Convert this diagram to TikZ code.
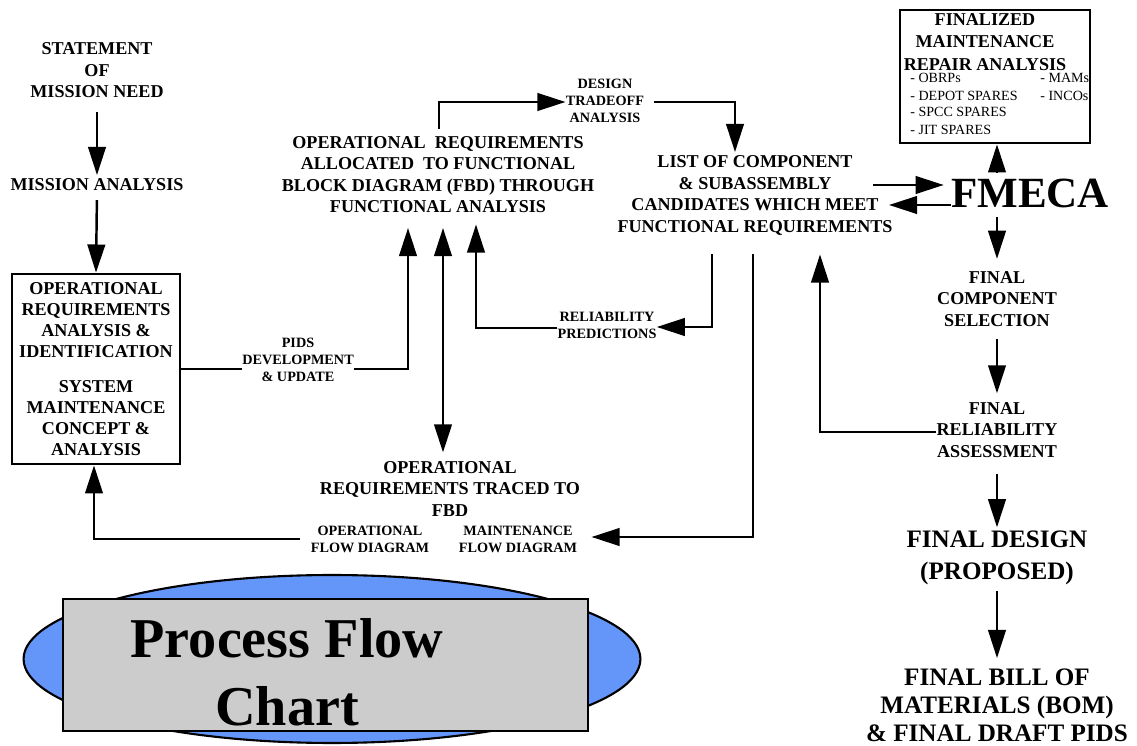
\documentclass[tikz,border=0pt]{standalone}
\usepackage{fontspec}
\setmainfont{Liberation Serif}
\usetikzlibrary{arrows.meta,shapes.geometric}
\definecolor{ovalblue}{RGB}{100,150,250}
\definecolor{panelgray}{RGB}{204,204,204}
\begin{document}
\begin{tikzpicture}[x=0.02cm,y=-0.02cm,
  lbl/.style={font=\bfseries\fontsize{10.3}{12.2}\selectfont,align=center,inner sep=0pt},
  small/.style={font=\bfseries\fontsize{8.1}{9.6}\selectfont,align=center,inner sep=0pt},
  large/.style={font=\bfseries\fontsize{14.3}{16}\selectfont,align=center,inner sep=0pt},
  item/.style={font=\fontsize{8}{9}\selectfont,anchor=base west,inner sep=0pt},
  frame/.style={draw,line width=1.6pt,inner sep=0pt},
  flow/.style={line width=1.4pt},
  arr/.style={flow,-{Triangle[length=16pt,width=10pt]}},
  dblarr/.style={flow,{Triangle[length=16pt,width=10pt]}-{Triangle[length=16pt,width=10pt]}}]

\useasboundingbox (0,0) rectangle (1137,746);

% ---------- left column ----------
\node[lbl] (stmt) at (97,70.5) {STATEMENT\\OF\\MISSION NEED};
\node[lbl] (mission) at (97,185) {MISSION ANALYSIS};
\node[frame,minimum width=3.36cm,minimum height=3.8cm,lbl,
      font=\bfseries\fontsize{10.3}{12}\selectfont] (opreq) at (96,369)
  {OPERATIONAL\\REQUIREMENTS\\ANALYSIS \&\\IDENTIFICATION\\[8pt]
   SYSTEM\\MAINTENANCE\\CONCEPT \&\\ANALYSIS};

% ---------- middle ----------
\node[small] (pids) at (298,360) {PIDS\\DEVELOPMENT\\\& UPDATE};
\node[lbl] (fbd) at (438,174.5)
  {OPERATIONAL\ \ REQUIREMENTS\\ALLOCATED\ \ TO FUNCTIONAL\\BLOCK DIAGRAM (FBD) THROUGH\\FUNCTIONAL ANALYSIS};
\node[small] (tradeoff) at (605,101) {DESIGN\\TRADEOFF\\ANALYSIS};
\node[lbl] (list) at (755,195.5)
  {LIST OF COMPONENT\\\& SUBASSEMBLY\\CANDIDATES WHICH MEET\\FUNCTIONAL REQUIREMENTS};
\node[small] (reliab) at (607,325) {RELIABILITY\\PREDICTIONS};
\node[lbl] (traced) at (450,489) {OPERATIONAL\\REQUIREMENTS TRACED TO\\FBD};
\node[small] (opflow) at (370,539) {OPERATIONAL\\FLOW DIAGRAM};
\node[small] (mtflow) at (518,539) {MAINTENANCE\\FLOW DIAGRAM};

% ---------- right column ----------
\node[frame,minimum width=3.8cm,minimum height=2.66cm] (fmra) at (995,76.5) {};
\node[lbl,font=\bfseries\fontsize{10.3}{13}\selectfont] (fmrahead) at (985,42)
  {FINALIZED\\MAINTENANCE\\REPAIR ANALYSIS};
\node[item] (obrp) at (910,83) {- OBRPs};
\node[item] (depot) at (910,101) {- DEPOT SPARES};
\node[item] (spcc) at (910,117) {- SPCC SPARES};
\node[item] (jit) at (910,135) {- JIT SPARES};
\node[item] (mams) at (1040,83) {- MAMs};
\node[item] (incos) at (1040,101) {- INCOs};

\node[inner sep=0pt,font=\bfseries\fontsize{24.5}{26}\selectfont] (fmeca) at (1030,193) {FMECA};
\node[lbl] (fcs) at (997,299) {FINAL\\COMPONENT\\SELECTION};
\node[lbl] (fra) at (997,430) {FINAL\\RELIABILITY\\ASSESSMENT};
\node[large,font=\bfseries\fontsize{14.3}{18}\selectfont] (fdesign) at (997,558) {FINAL DESIGN\\(PROPOSED)};
\node[large] (bom) at (997,705.5) {FINAL BILL OF\\MATERIALS (BOM)\\\& FINAL DRAFT PIDS};

% ---------- title badge ----------
\node[ellipse,draw,line width=1.2pt,fill=ovalblue,minimum width=12.34cm,minimum height=3.36cm] (oval) at (332,659) {};
\node[draw,line width=1.4pt,fill=panelgray,minimum width=10.5cm,minimum height=2.64cm] (panel) at (325.5,665) {};
\node[inner sep=0pt,align=center,font=\bfseries\fontsize{32}{38.5}\selectfont] (title) at (287,672) {Process Flow\\Chart};

% ---------- bend points ----------
\coordinate (pidsbend) at (408,369);
\coordinate (bicol) at (443,340);
\coordinate (relbend) at (476,328);
\coordinate (lrbend) at (712,327);
\coordinate (lmbend) at (753,537);
\coordinate (ofbend) at (94,539);
\coordinate (tobend) at (439,102);
\coordinate (tlbend) at (735,102);
\coordinate (fmout) at (873,185);
\coordinate (fmback) at (889,205);
\coordinate (fmcol) at (997,193);
\coordinate (frbend) at (820,432);

% ---------- connectors ----------
\draw[arr,shorten <=8pt,shorten >=2pt] (stmt.south) -- (mission.north);
\draw[arr,shorten <=5pt] (mission.south) -- (opreq.north);

\draw[flow] (opreq.east) -- (opreq.east -| pids.west);
\draw[arr,shorten >=8.5pt] (pids.east |- opreq.east) -- (pidsbend) -- (pidsbend |- fbd.south);

\draw[dblarr,shorten <=8.5pt,shorten >=5pt] (bicol |- fbd.south) -- (bicol |- traced.north);

\draw[arr,shorten >=6.5pt] (reliab.west |- relbend) -- (relbend) -- (relbend |- fbd.south);
\draw[arr,shorten <=10.8pt] (lrbend |- list.south) -- (lrbend) -- (reliab.east |- lrbend);
\draw[arr,shorten <=10.8pt,shorten >=8pt] (lmbend |- list.south) -- (lmbend) -- (mtflow.east |- lmbend);
\draw[arr,shorten <=6pt] (opflow.west |- ofbend) -- (ofbend) -- (ofbend |- opreq.south);

\draw[arr,shorten <=4pt] (tobend |- fbd.north) -- (tobend) -- (tradeoff.west |- tobend);
\draw[arr,shorten <=5.5pt,shorten >=2pt] (tradeoff.east |- tlbend) -- (tlbend) -- (tlbend |- list.north);

\draw[arr,shorten >=4pt] (fmout) -- (fmout -| fmeca.west);
\draw[arr] (fmeca.west |- fmback) -- (fmback);
\draw[arr,shorten <=3pt] (fmcol |- fmeca.north) -- (fmcol |- fmra.south);
\draw[arr,shorten <=5pt,shorten >=7pt] (fmcol |- fmeca.south) -- (fmcol |- fcs.north);
\draw[arr,shorten <=7pt,shorten >=5pt] (fcs.south) -- (fra.north);
\draw[arr,shorten >=10.8pt] (fra.west |- frbend) -- (frbend) -- (frbend |- list.south);
\draw[arr,shorten <=9pt,shorten >=2pt] (fra.south) -- (fdesign.north);
\draw[arr,shorten <=3.5pt,shorten >=6pt] (fdesign.south) -- (bom.north);
\end{tikzpicture}
\end{document}
